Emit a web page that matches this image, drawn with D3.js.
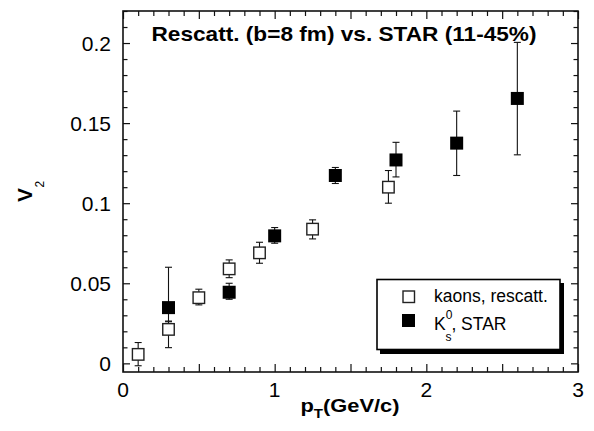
<!DOCTYPE html>
<html>
<head>
<meta charset="utf-8">
<script src="https://cdn.jsdelivr.net/npm/d3@7/dist/d3.min.js"></script>
<style>
  body { margin: 0; background: #fff; }
  svg { display: block; font-family: "Liberation Sans", Arial, sans-serif; }
</style>
</head>
<body>
<svg id="chart" width="594" height="431"></svg>
<script>
// kaons from the rescattering model (open squares)
const rescattPt = [0.1, 0.3, 0.5, 0.7, 0.9, 1.25, 1.75];
const rescattV2 = [0.0056, 0.0212, 0.041, 0.059, 0.069, 0.0838, 0.110];
const rescattLo = [-0.0015, 0.0098, 0.0365, 0.0535, 0.0625, 0.0777, 0.100];
const rescattHi = [0.013, 0.026, 0.0463, 0.0646, 0.0756, 0.0896, 0.1204];

// STAR K0s data (filled squares)
const starPt = [0.3, 0.7, 1.0, 1.4, 1.8, 2.2, 2.6];
const starV2 = [0.0348, 0.0444, 0.0796, 0.1173, 0.127, 0.1375, 0.1654];
const starLo = [0.0264, 0.040, 0.075, 0.1123, 0.1164, 0.1173, 0.1302];
const starHi = [0.060, 0.050, 0.0848, 0.1223, 0.138, 0.1575, 0.2004];

const xTickLabels = [0, 1, 2, 3];
const yTickLabels = [0, 0.05, 0.1, 0.15, 0.2];
const titleText = "Rescatt. (b=8 fm) vs. STAR (11-45%)";

const svg = d3.select("#chart");
const margin = {top: 11, right: 16, bottom: 59, left: 123};
const W = 594, H = 431;
const x = d3.scaleLinear().domain([0, 3]).range([margin.left, W - margin.right]);
const y = d3.scaleLinear().domain([-0.0054, 0.22]).range([H - margin.bottom, margin.top]);

const fmt = d => d === 0 ? "0" : String(d);

// minor + major ticks, all pointing inward
const xMinor = d3.range(0, 3.0001, 0.1).map(d => +d.toFixed(2));
const yMinor = d3.range(0, 0.2201, 0.01).map(d => +d.toFixed(3));
const isMajX = d => Math.abs(d * 2 - Math.round(d * 2)) < 1e-6;
const isMajY = d => Math.abs(d * 20 - Math.round(d * 20)) < 1e-6;

function tickAxis(axisFn, scale, values, transform) {
  const g = svg.append("g").attr("transform", transform);
  g.call(axisFn(scale).tickValues(values).tickFormat("").tickSizeOuter(0).tickSize(0));
  g.select(".domain").remove();
  g.selectAll(".tick line").attr("stroke", "#111").attr("stroke-width", 1.2);
  return g;
}

tickAxis(d3.axisBottom, x, xMinor, `translate(0,${y.range()[0]})`)
  .selectAll(".tick line").attr("y2", d => isMajX(d) ? -8 : -5);
tickAxis(d3.axisTop, x, xMinor, `translate(0,${y.range()[1]})`)
  .selectAll(".tick line").attr("y2", d => isMajX(d) ? 8 : 5);
tickAxis(d3.axisLeft, y, yMinor, `translate(${margin.left},0)`)
  .selectAll(".tick line").attr("x2", d => isMajY(d) ? 7 : 4.5);
tickAxis(d3.axisRight, y, yMinor, `translate(${W - margin.right},0)`)
  .selectAll(".tick line").attr("x2", d => isMajY(d) ? -7 : -4.5);

// frame
svg.append("rect")
  .attr("x", x(0)).attr("y", y.range()[1])
  .attr("width", x(3) - x(0)).attr("height", y.range()[0] - y.range()[1])
  .attr("fill", "none").attr("stroke", "#111").attr("stroke-width", 1.6);

// tick labels
svg.append("g").selectAll("text").data(xTickLabels).join("text")
  .attr("x", d => x(d)).attr("y", y.range()[0] + 25)
  .attr("text-anchor", "middle").attr("font-size", 21)
  .text(fmt);
svg.append("g").selectAll("text").data(yTickLabels).join("text")
  .attr("x", margin.left - 12).attr("y", d => y(d) + 7.5)
  .attr("text-anchor", "end").attr("font-size", 21)
  .text(fmt);

// axis titles (the original is a little stretched horizontally)
const xt = svg.append("text").attr("transform", "translate(300.5,411.5) scale(1.15,1)")
  .attr("font-size", 19).attr("font-weight", "bold");
xt.append("tspan").text("p");
xt.append("tspan").attr("font-size", 13).attr("dy", 6).text("T");
xt.append("tspan").attr("dy", -6).text("(GeV/c)");

const yt = svg.append("text").attr("transform", "translate(31.5,202) rotate(-90)")
  .attr("font-size", 21).attr("font-weight", "bold");
yt.append("tspan").text("V");
yt.append("tspan").attr("font-size", 12).attr("font-weight", "normal")
  .attr("dy", 12).attr("dx", 0.5).text("2");

// chart title
svg.append("text").attr("x", 151.5).attr("y", 41)
  .attr("font-size", 20.5).attr("font-weight", "bold")
  .attr("textLength", 385).attr("lengthAdjust", "spacingAndGlyphs")
  .text(titleText);

// error bars
function drawErr(pts, lo, hi) {
  const g = svg.append("g").attr("stroke", "#111").attr("stroke-width", 1.1);
  pts.forEach((p, i) => {
    const cx = x(p);
    g.append("line").attr("x1", cx).attr("x2", cx).attr("y1", y(lo[i])).attr("y2", y(hi[i]));
    [lo[i], hi[i]].forEach(v => {
      g.append("line").attr("x1", cx - 3.5).attr("x2", cx + 3.5).attr("y1", y(v)).attr("y2", y(v));
    });
  });
}
drawErr(rescattPt, rescattLo, rescattHi);
drawErr(starPt, starLo, starHi);

// markers
const sOpen = 11.5, sFill = 13;
svg.append("g").selectAll("rect").data(rescattPt).join("rect")
  .attr("x", d => x(d) - sOpen / 2)
  .attr("y", (d, i) => y(rescattV2[i]) - sOpen / 2)
  .attr("width", sOpen).attr("height", sOpen)
  .attr("fill", "#fff").attr("stroke", "#222").attr("stroke-width", 1.4);
svg.append("g").selectAll("rect").data(starPt).join("rect")
  .attr("x", d => x(d) - sFill / 2)
  .attr("y", (d, i) => y(starV2[i]) - sFill / 2)
  .attr("width", sFill).attr("height", sFill)
  .attr("fill", "#000");

// legend
const lg = svg.append("g");
lg.append("rect").attr("x", 380).attr("y", 283).attr("width", 184).attr("height", 71).attr("fill", "#000");
lg.append("rect").attr("x", 377).attr("y", 279.5).attr("width", 183).attr("height", 70)
  .attr("fill", "#fff").attr("stroke", "#000").attr("stroke-width", 1.6);
lg.append("rect").attr("x", 403).attr("y", 291).attr("width", 11.5).attr("height", 11.5)
  .attr("fill", "#fff").attr("stroke", "#222").attr("stroke-width", 1.4);
lg.append("rect").attr("x", 402).attr("y", 314).attr("width", 13).attr("height", 13).attr("fill", "#000");
lg.append("text").attr("x", 434).attr("y", 302).attr("font-size", 17.5).text("kaons, rescatt.");
const k = lg.append("text").attr("x", 434).attr("y", 330).attr("font-size", 17.5);
k.append("tspan").text("K");
k.append("tspan").attr("font-size", 12).attr("dy", -11).text("0");
k.append("tspan").attr("font-size", 12).attr("dy", 22).attr("dx", -7).text("s");
k.append("tspan").attr("dy", -11).text(", STAR");
</script>
</body>
</html>
